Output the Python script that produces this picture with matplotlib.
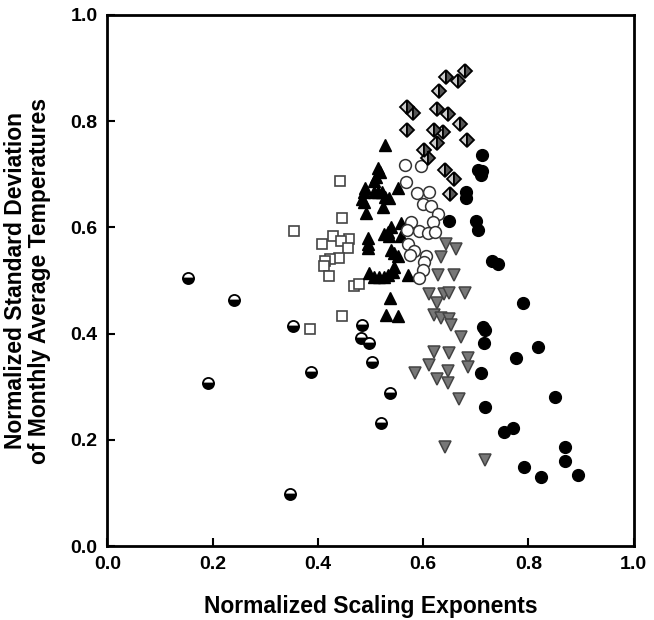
import matplotlib.pyplot as plt

plt.rcParams['font.family'] = ['Liberation Sans', 'DejaVu Sans']
plt.rcParams['font.weight'] = 'bold'

# half-filled circles
half_x = [0.154, 0.240, 0.352, 0.192, 0.347, 0.387, 0.484, 0.482, 0.497, 0.503, 0.537, 0.520]
half_y = [0.504, 0.464, 0.415, 0.308, 0.098, 0.328, 0.417, 0.392, 0.383, 0.347, 0.289, 0.232]

# open squares
sq_x = [0.442, 0.446, 0.354, 0.429, 0.459, 0.444, 0.408, 0.457, 0.440, 0.423, 0.413, 0.411,
        0.421, 0.469, 0.478, 0.446, 0.385]
sq_y = [0.687, 0.617, 0.594, 0.583, 0.579, 0.574, 0.568, 0.562, 0.543, 0.540, 0.536, 0.528,
        0.509, 0.489, 0.494, 0.434, 0.409]

# black up-triangles
tri_x = [0.528, 0.514, 0.518, 0.510, 0.507, 0.490, 0.488, 0.484, 0.488, 0.491, 0.507, 0.514,
         0.522, 0.528, 0.535, 0.524, 0.552, 0.558, 0.539, 0.533, 0.526, 0.535, 0.558, 0.495,
         0.495, 0.495, 0.539, 0.545, 0.552, 0.545, 0.543, 0.533, 0.526, 0.516, 0.507, 0.497,
         0.571, 0.537, 0.530, 0.552]
tri_y = [0.755, 0.711, 0.704, 0.694, 0.687, 0.675, 0.666, 0.653, 0.647, 0.628, 0.666, 0.666,
         0.666, 0.657, 0.655, 0.638, 0.675, 0.609, 0.600, 0.591, 0.587, 0.583, 0.583, 0.581,
         0.568, 0.562, 0.558, 0.551, 0.547, 0.526, 0.517, 0.511, 0.506, 0.506, 0.506, 0.515,
         0.511, 0.468, 0.436, 0.434]

# open circles
oc_x = [0.566, 0.596, 0.568, 0.589, 0.611, 0.600, 0.615, 0.629, 0.619, 0.577, 0.592, 0.610,
        0.623, 0.570, 0.571, 0.583, 0.575, 0.606, 0.602, 0.600, 0.592]
oc_y = [0.717, 0.715, 0.685, 0.664, 0.666, 0.645, 0.640, 0.626, 0.611, 0.611, 0.594, 0.589,
        0.591, 0.596, 0.568, 0.555, 0.549, 0.547, 0.534, 0.519, 0.504]

# half-shaded diamonds
dia_x = [0.680, 0.644, 0.667, 0.630, 0.570, 0.581, 0.627, 0.648, 0.670, 0.570, 0.621, 0.638,
         0.684, 0.627, 0.602, 0.610, 0.642, 0.659, 0.651]
dia_y = [0.894, 0.883, 0.875, 0.857, 0.826, 0.815, 0.823, 0.813, 0.794, 0.783, 0.783, 0.779,
         0.764, 0.758, 0.745, 0.730, 0.708, 0.691, 0.662]

# black circles
bc_x = [0.712, 0.705, 0.712, 0.709, 0.682, 0.682, 0.650, 0.701, 0.705, 0.730, 0.743, 0.789,
        0.714, 0.718, 0.716, 0.819, 0.777, 0.710, 0.850, 0.718, 0.754, 0.771, 0.869, 0.869,
        0.792, 0.823, 0.895]
bc_y = [0.736, 0.708, 0.706, 0.698, 0.666, 0.655, 0.613, 0.613, 0.596, 0.536, 0.532, 0.458,
        0.413, 0.406, 0.383, 0.374, 0.355, 0.326, 0.281, 0.262, 0.215, 0.223, 0.187, 0.160,
        0.149, 0.130, 0.134]

# gray down-triangles
dt_x = [0.644, 0.663, 0.634, 0.629, 0.659, 0.611, 0.627, 0.640, 0.650, 0.680, 0.621, 0.634,
        0.650, 0.653, 0.672, 0.621, 0.650, 0.686, 0.686, 0.611, 0.648, 0.585, 0.627, 0.648,
        0.669, 0.642, 0.718]
dt_y = [0.568, 0.560, 0.545, 0.511, 0.511, 0.475, 0.458, 0.474, 0.477, 0.477, 0.436, 0.430,
        0.428, 0.417, 0.394, 0.366, 0.364, 0.355, 0.338, 0.342, 0.330, 0.326, 0.315, 0.308,
        0.277, 0.187, 0.162]

fig = plt.figure(figsize=(6.54, 6.2), dpi=100)
ax = fig.add_axes([0.164, 0.119, 0.805, 0.857])

ax.plot(half_x, half_y, 'o', ms=8, mfc='black', mfcalt='white', fillstyle='bottom',
        mec='black', mew=1.3, ls='none')
ax.plot(sq_x, sq_y, 's', ms=7.5, mfc='white', mec='#444444', mew=1.2, ls='none')
ax.plot(tri_x, tri_y, '^', ms=8.5, mfc='black', mec='black', ls='none')
ax.plot(oc_x, oc_y, 'o', ms=8.5, mfc='white', mec='#333333', mew=1.1, ls='none')
ax.plot(dia_x, dia_y, 'D', ms=7, mfc='#cccccc', mfcalt='#555555', fillstyle='left',
        mec='black', mew=1.3, ls='none')
ax.plot(bc_x, bc_y, 'o', ms=8.5, mfc='black', mec='black', ls='none')
ax.plot(dt_x, dt_y, 'v', ms=8.5, mfc='#777777', mec='#444444', mew=1.1, ls='none')

ax.set_xlim(0, 1)
ax.set_ylim(0, 1)
ax.set_xticks([0.0, 0.2, 0.4, 0.6, 0.8, 1.0])
ax.set_yticks([0.0, 0.2, 0.4, 0.6, 0.8, 1.0])
ax.tick_params(direction='in', length=6, width=1.5, labelsize=14, pad=7)

for s in ax.spines.values():
    s.set_linewidth(2)

ax.set_xlabel('Normalized Scaling Exponents', fontsize=16.5, fontweight='bold', labelpad=16)
ax.set_ylabel('Normalized Standard Deviation\nof Monthly Average Temperatures',
              fontsize=16.5, fontweight='bold', labelpad=14, linespacing=1.05)

fig.savefig('out.png', dpi=100)
